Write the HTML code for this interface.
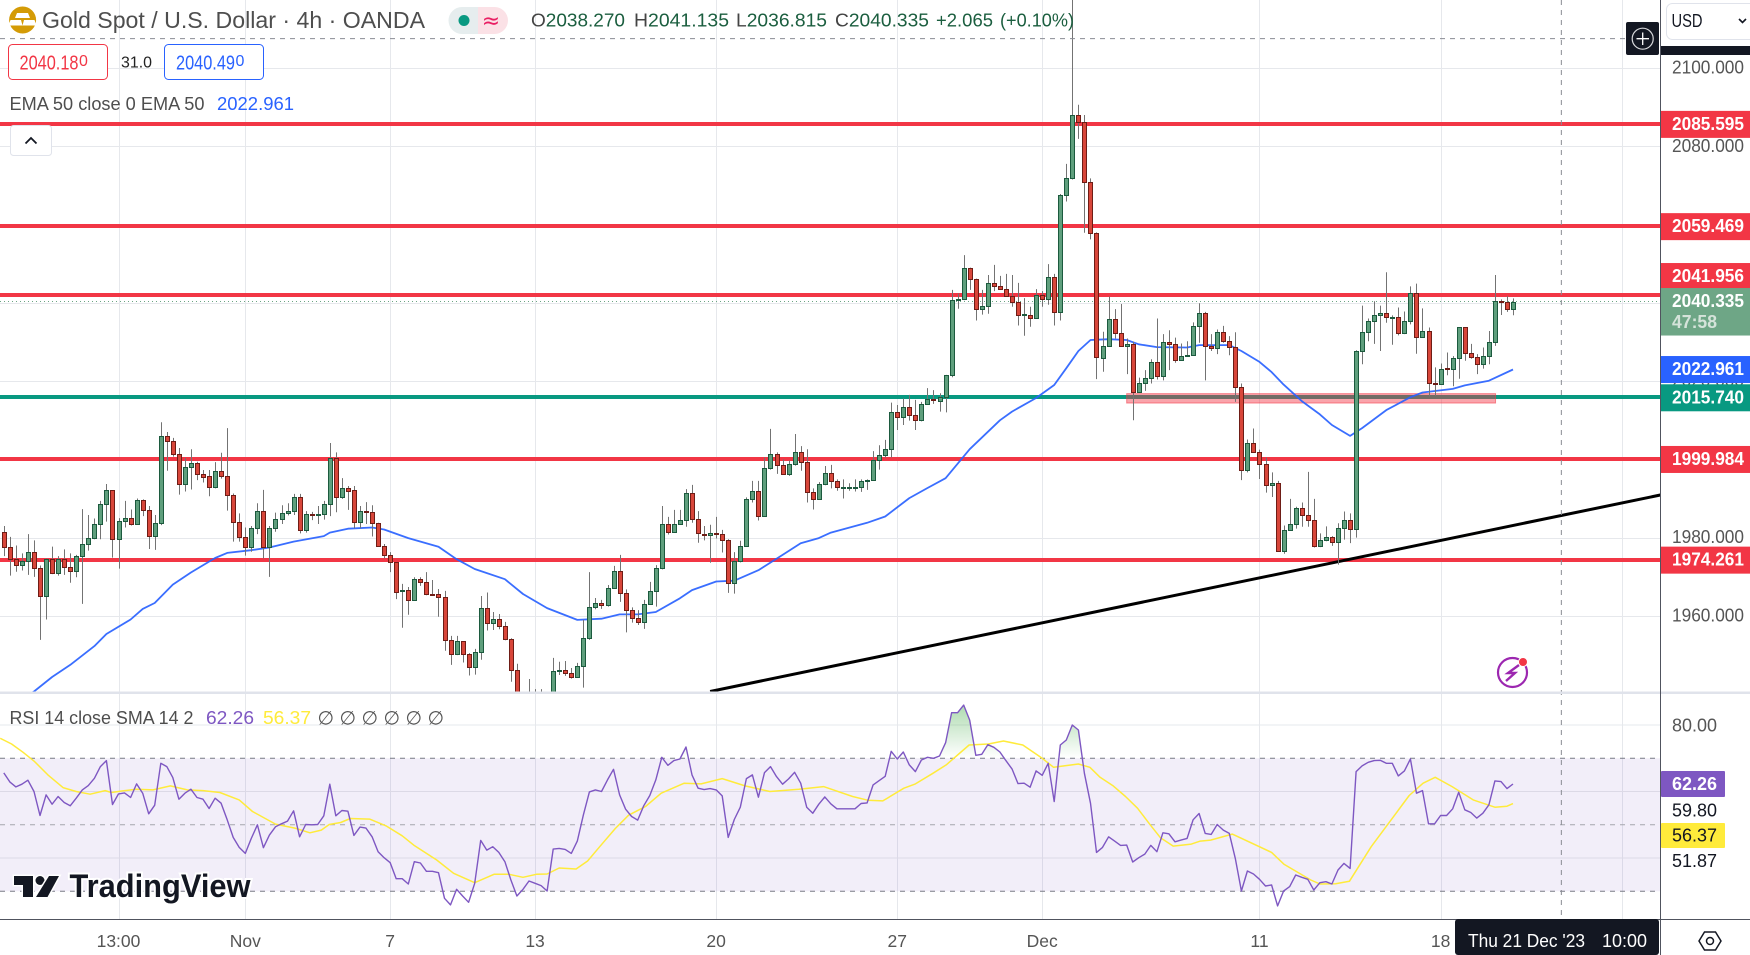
<!DOCTYPE html>
<html lang="en">
<head>
<meta charset="utf-8">
<title>Gold Spot / U.S. Dollar 4h chart</title>
<style>
html,body{margin:0;padding:0;background:#fff;width:1750px;height:955px;overflow:hidden}
svg{display:block;font-family:"Liberation Sans",Arial,sans-serif}
text{white-space:pre}
</style>
</head>
<body>
<svg id="chart" xmlns="http://www.w3.org/2000/svg" width="1750" height="955" viewBox="0 0 1750 955">
  <defs>
    <clipPath id="main-clip"><rect x="0" y="0" width="1660" height="692"/></clipPath>
    <clipPath id="rsi-clip"><rect x="0" y="694" width="1660" height="225"/></clipPath>
    <clipPath id="ob-clip"><rect x="0" y="694" width="1660" height="64.3"/></clipPath>
    <clipPath id="os-clip"><rect x="0" y="891.3" width="1660" height="28"/></clipPath>
    <linearGradient id="ob-grad" gradientUnits="userSpaceOnUse" x1="0" y1="705" x2="0" y2="758">
      <stop offset="0" stop-color="#4caf50" stop-opacity="0.45"/>
      <stop offset="1" stop-color="#4caf50" stop-opacity="0"/>
    </linearGradient>
  </defs>
  <rect x="0" y="0" width="1750" height="955" fill="#ffffff"/>
  <g id="grid"></g>
  <g id="rsi-pane" clip-path="url(#rsi-clip)"></g>
  <g id="main-pane" clip-path="url(#main-clip)"></g>
  <g id="crosshair"></g>
  <rect x="0" y="691.5" width="1750" height="2.5" fill="#e0e3eb"/>
  <rect x="0" y="919.5" width="1750" height="36" fill="#ffffff"/>
  <rect x="1661" y="0" width="89" height="919" fill="#ffffff"/>
  <rect x="1661" y="691.5" width="89" height="2.5" fill="#e0e3eb"/>
  <line x1="0" y1="919.5" x2="1750" y2="919.5" stroke="#50535e" stroke-width="1"/>
  <line x1="1660.5" y1="0" x2="1660.5" y2="955" stroke="#50535e" stroke-width="1"/>
  <rect x="1661" y="46" width="89" height="9" fill="#131722"/>
  <g id="axis-labels"></g>
  <g id="tags"></g>

  <!-- Header -->
  <g>
    <circle cx="22.6" cy="20" r="13.5" fill="#d49b06"/>
    <polygon points="17,13 28,13 30,18 15,18" fill="#fff"/>
    <polygon points="10.5,20 21,20 22.5,25.5 8.5,25.5" fill="#fff"/>
    <polygon points="24,20 34.5,20 36.5,25.5 22.5,25.5" fill="#fff"/>
  </g>
  <text x="42" y="28" font-size="23" fill="#4e4e4e" textLength="383" lengthAdjust="spacingAndGlyphs">Gold Spot / U.S. Dollar · 4h · OANDA</text>
  <g>
    <path d="M478 7 H462 a13.500 13.500 0 0 0 0 27 H478 Z" fill="#e6edee"/>
    <path d="M478 7 H494.500 a13.500 13.500 0 0 1 0 27 H478 Z" fill="#fbe1e6"/>
    <circle cx="464" cy="20.500" r="5.500" fill="#089981"/>
    <text x="491" y="28" font-size="22" text-anchor="middle" fill="#e91e63" font-family="'DejaVu Sans',sans-serif">≈</text>
  </g>
  <g font-size="18.500" fill="#1b5e3f">
    <text x="531" y="26.500" textLength="94" lengthAdjust="spacingAndGlyphs"><tspan fill="#444">O</tspan>2038.270</text>
    <text x="634" y="26.500" textLength="95" lengthAdjust="spacingAndGlyphs"><tspan fill="#444">H</tspan>2041.135</text>
    <text x="736" y="26.500" textLength="91" lengthAdjust="spacingAndGlyphs"><tspan fill="#444">L</tspan>2036.815</text>
    <text x="835" y="26.500" textLength="94" lengthAdjust="spacingAndGlyphs"><tspan fill="#444">C</tspan>2040.335</text>
    <text x="936" y="26.500" textLength="57" lengthAdjust="spacingAndGlyphs">+2.065</text>
    <text x="1000" y="26.500" textLength="74" lengthAdjust="spacingAndGlyphs">(+0.10%)</text>
  </g>
  <g>
    <rect x="8.500" y="44.500" width="99" height="35" rx="4" fill="#fff" stroke="#f23645"/>
    <text x="19.500" y="69.500" font-size="20.500" fill="#f23645" textLength="59" lengthAdjust="spacingAndGlyphs">2040.18</text>
    <text x="79" y="66" font-size="16" fill="#f23645">0</text>
  </g>
  <text x="121" y="67.500" font-size="16" fill="#222" textLength="31" lengthAdjust="spacingAndGlyphs">31.0</text>
  <g>
    <rect x="164.500" y="44.500" width="99" height="35" rx="4" fill="#fff" stroke="#2962ff"/>
    <text x="176" y="69.500" font-size="20.500" fill="#2962ff" textLength="59" lengthAdjust="spacingAndGlyphs">2040.49</text>
    <text x="235.500" y="66" font-size="16" fill="#2962ff">0</text>
  </g>
  <text x="9.500" y="110" font-size="18" fill="#4e4e4e" textLength="195" lengthAdjust="spacingAndGlyphs">EMA 50 close 0 EMA 50</text>
  <text x="217" y="110" font-size="18.500" fill="#2962ff" textLength="77" lengthAdjust="spacingAndGlyphs">2022.961</text>
  <g>
    <rect x="10.500" y="125.500" width="41" height="30" rx="3" fill="#fff" stroke="#e0e3eb"/>
    <polyline points="25.500,143.500 31,138 36.500,143.500" fill="none" stroke="#131722" stroke-width="1.800"/>
  </g>
  <text x="9.500" y="724" font-size="18" fill="#4e4e4e" textLength="184" lengthAdjust="spacingAndGlyphs">RSI 14 close SMA 14 2</text>
  <text x="206" y="724" font-size="18.500" fill="#7e57c2" textLength="48" lengthAdjust="spacingAndGlyphs">62.26</text>
  <text x="263" y="724" font-size="18.500" fill="#ffeb3b" textLength="48" lengthAdjust="spacingAndGlyphs">56.37</text>
  <text font-size="19" fill="#555" font-family="'DejaVu Sans',sans-serif" y="724.500"><tspan x="317.500">∅</tspan><tspan x="339.500">∅</tspan><tspan x="361.500">∅</tspan><tspan x="383.500">∅</tspan><tspan x="405.500">∅</tspan><tspan x="427.500">∅</tspan></text>

  <!-- TradingView logo -->
  <g>
    <path d="M14 876 H33 V897 H23 V885 H14 Z" fill="#131722" stroke="#fff" stroke-width="3" paint-order="stroke"/>
    <circle cx="40" cy="880.500" r="4.500" fill="#131722" stroke="#fff" stroke-width="3" paint-order="stroke"/>
    <path d="M49 876 H59 L47.500 897 H36 Z" fill="#131722" stroke="#fff" stroke-width="3" paint-order="stroke"/>
    <text x="69.500" y="897" font-size="32" font-weight="700" fill="#131722" stroke="#fff" stroke-width="4" paint-order="stroke" textLength="181" lengthAdjust="spacingAndGlyphs">TradingView</text>
  </g>

  <!-- Lightning alert -->
  <g>
    <circle cx="1512.500" cy="672.500" r="14.500" fill="none" stroke="#9c27b0" stroke-width="2.200"/>
    <path d="M1519 665 L1508 673 H1515 L1506 681" fill="none" stroke="#9c27b0" stroke-width="2.400"/>
    <circle cx="1523" cy="662" r="4.500" fill="#f23645" stroke="#fff" stroke-width="1"/>
  </g>

  <!-- Crosshair add button -->
  <g>
    <rect x="1626" y="22" width="33" height="33" rx="2" fill="#131722"/>
    <circle cx="1642.700" cy="38.700" r="10.500" fill="none" stroke="#d8d9dc" stroke-width="1.200"/>
    <path d="M1642.700 32.500 V45 M1636.500 38.700 H1649" stroke="#fff" stroke-width="1.300"/>
  </g>

  <!-- Currency -->
  <g>
    <rect x="1666.500" y="3.500" width="95" height="36" rx="6" fill="#fff" stroke="#e0e3eb"/>
    <text x="1671.500" y="27" font-size="18.500" fill="#131722" textLength="31" lengthAdjust="spacingAndGlyphs">USD</text>
    <polyline points="1739,19 1742.500,22.500 1746,19" fill="none" stroke="#131722" stroke-width="1.600"/>
  </g>

  <!-- Date tag -->
  <g>
    <rect x="1455" y="919" width="204" height="36" rx="3" fill="#131722"/>
    <text x="1468" y="947" font-size="18" fill="#fff" textLength="117" lengthAdjust="spacingAndGlyphs">Thu 21 Dec '23</text>
    <text x="1602" y="947" font-size="18" fill="#fff" textLength="45" lengthAdjust="spacingAndGlyphs">10:00</text>
  </g>
  <g>
    <polygon points="1699,941 1704.500,932 1715.500,932 1721,941 1715.500,950 1704.500,950" fill="none" stroke="#131722" stroke-width="1.500"/>
    <circle cx="1710" cy="941" r="3.500" fill="none" stroke="#131722" stroke-width="1.500"/>
  </g>
</svg>

<script>
// ---------- Candles (OHLC, price units) ----------
const opens = [
1981.4,1977.5,1974.5,1972.9,1974.0,1976.3,1972.2,1965.0,1974.5,1970.9,
1974.5,1972.4,1971.4,1975.2,1978.3,1979.8,1983.4,1988.5,1992.1,1979.6,
1984.2,1985.0,1983.4,1989.5,1987.0,1980.5,1983.7,2005.9,2004.6,2001.5,
1993.6,1998.0,1999.0,1996.2,1995.7,1992.9,1997.0,1995.7,1990.8,1983.9,
1980.1,1977.5,1982.4,1986.7,1977.7,1982.4,1984.7,1986.2,1986.7,1990.3,
1981.9,1986.1,1985.9,1986.1,1988.5,2000.3,1990.3,1992.6,1992.1,1983.9,
1986.7,1986.5,1983.7,1978.0,1975.7,1973.7,1966.4,1966.6,1964.0,1969.4,
1968.6,1965.6,1965.5,1964.8,1953.8,1950.2,1953.5,1950.2,1946.9,1950.7,
1962.0,1958.1,1959.1,1957.4,1954.0,1946.1,1938.0,1936.0,1934.0,1935.0,
1934.0,1936.0,1945.9,1946.1,1945.5,1944.5,1947.1,1954.3,1962.2,1963.2,
1962.7,1967.1,1971.4,1965.8,1961.4,1959.4,1958.4,1963.0,1966.3,1972.2,
1983.4,1981.4,1983.4,1984.4,1991.3,1984.7,1981.0,1980.6,1981.1,1980.9,
1979.3,1968.3,1974.0,1977.8,1990.0,1991.8,1985.5,1997.7,2001.5,1998.5,
1996.2,1998.7,2002.0,1999.3,1991.6,1989.8,1993.6,1996.4,1994.4,1992.8,
1992.8,1992.8,1992.9,1994.4,1994.7,1999.8,2001.0,2002.6,2012.0,2010.8,
2013.3,2011.3,2010.0,2014.1,2015.5,2015.0,2015.9,2021.5,2040.8,2041.0,
2048.8,2046.0,2038.4,2039.1,2045.0,2044.2,2043.5,2041.7,2040.1,2036.9,
2037.0,2036.0,2041.9,2040.9,2046.5,2037.6,2067.5,2071.8,2087.9,2086.1,
2071.0,2057.8,2026.0,2028.9,2035.8,2032.2,2028.9,2029.6,2017.3,2019.4,
2020.9,2024.8,2021.2,2030.1,2029.6,2025.5,2026.3,2026.8,2034.2,2037.3,
2028.9,2028.4,2032.5,2030.2,2028.6,2018.6,1997.2,2004.3,2002.0,1998.7,
1993.4,1993.9,1976.7,1981.9,1983.4,1987.5,1985.9,1984.4,1977.8,1979.3,
1980.1,1978.8,1982.6,1984.4,1982.1,2027.6,2032.5,2035.3,2036.8,2037.3,
2036.2,2036.3,2032.2,2035.3,2042.6,2031.4,2032.7,2019.5,2019.3,2023.3,
2023.0,2025.8,2033.7,2027.1,2026.1,2024.3,2026.3,2029.9,2040.5,2040.1,
2038.3];
const highs = [
1983.0,1980.2,1978.0,1976.0,1980.9,1979.3,1972.9,1974.7,1977.7,1975.3,
1977.0,1976.0,1975.6,1987.3,1985.8,1984.9,1989.4,1993.7,1992.1,1985.0,
1989.4,1987.2,1990.0,1989.8,1988.1,1985.8,2009.5,2007.0,2005.5,2002.9,
2000.4,2002.6,1999.4,1997.3,1997.3,1999.3,2001.7,2008.0,1991.3,1986.2,
1982.6,1983.0,1988.8,1992.2,1983.0,1986.4,1988.3,1988.8,1991.2,1991.2,
1986.8,1986.6,1988.1,1989.4,2004.2,2001.8,1995.2,1993.2,1993.2,1988.1,
1989.1,1988.3,1983.8,1978.4,1976.3,1973.8,1968.2,1967.4,1969.9,1969.9,
1971.2,1969.2,1966.9,1966.4,1954.9,1954.9,1953.6,1950.5,1951.6,1965.1,
1966.0,1961.0,1960.5,1958.5,1954.3,1947.8,1939.0,1943.9,1941.3,1941.3,
1939.0,1949.3,1948.3,1948.5,1946.7,1948.0,1959.0,1971.2,1964.6,1964.1,
1967.9,1972.8,1975.6,1966.8,1962.2,1961.5,1964.1,1968.7,1973.0,1988.1,
1985.3,1987.1,1987.1,1992.4,1993.5,1986.8,1983.0,1983.3,1985.3,1982.0,
1979.6,1976.3,1979.2,1990.3,1994.5,1994.5,2000.5,2007.8,2001.8,2000.0,
1999.7,2006.5,2003.4,2002.6,1992.6,1994.2,1998.3,1998.6,1994.9,1994.9,
1993.9,1994.9,1994.9,1994.9,2002.1,2003.6,2005.0,2014.5,2013.9,2015.6,
2016.5,2015.2,2014.7,2018.2,2017.7,2016.9,2021.6,2043.3,2042.4,2052.2,
2049.0,2046.2,2043.3,2047.1,2049.7,2046.9,2047.4,2047.1,2045.1,2041.2,
2039.0,2043.5,2043.0,2049.9,2047.4,2067.8,2075.5,2117.4,2090.6,2088.0,
2071.8,2058.0,2032.6,2041.6,2038.4,2039.7,2030.9,2030.1,2020.9,2022.8,
2025.6,2036.0,2032.0,2033.0,2031.1,2029.6,2030.2,2035.0,2039.9,2037.7,
2032.0,2033.2,2034.1,2031.5,2032.5,2019.4,2005.1,2007.9,2002.5,2000.5,
1996.7,1994.5,1983.1,1989.9,1987.9,1989.0,1996.8,1989.9,1981.1,1982.9,
1980.4,1983.7,1986.7,1986.2,2027.9,2039.3,2036.0,2040.4,2039.3,2047.8,
2036.8,2038.8,2037.8,2044.2,2044.9,2038.6,2033.7,2023.5,2024.5,2027.3,
2026.4,2033.8,2033.8,2029.5,2026.9,2028.6,2032.8,2047.1,2040.9,2041.7,
2041.135];
const lows = [
1975.3,1970.3,1971.3,1971.6,1970.5,1970.0,1953.9,1959.1,1970.7,1970.3,
1970.5,1968.5,1969.9,1963.1,1976.7,1979.6,1979.6,1984.1,1974.9,1972.1,
1982.6,1983.1,1983.3,1985.5,1977.1,1976.9,1983.2,1997.1,2000.7,1991.0,
1991.8,1992.3,1994.7,1994.1,1990.6,1992.6,1995.1,1986.9,1979.0,1979.0,
1975.4,1976.4,1980.9,1974.7,1970.0,1981.5,1983.5,1985.7,1985.8,1981.1,
1981.3,1984.5,1983.5,1984.6,1985.5,1986.5,1989.9,1987.1,1982.4,1982.4,
1983.5,1980.3,1977.7,1974.7,1971.2,1964.3,1957.0,1960.3,1963.9,1967.7,
1965.3,1965.1,1959.8,1951.1,1947.5,1950.0,1948.1,1944.8,1945.0,1948.8,
1956.3,1956.4,1956.6,1953.8,1943.2,1936.0,1934.0,1932.0,1932.0,1931.0,
1931.0,1934.0,1944.9,1944.7,1944.0,1944.3,1941.7,1953.9,1961.7,1961.8,
1962.4,1966.9,1963.6,1955.8,1958.3,1957.7,1956.7,1962.9,1962.4,1971.9,
1980.8,1981.3,1983.3,1982.8,1983.8,1978.7,1979.3,1973.6,1979.8,1976.2,
1965.9,1965.7,1973.7,1977.7,1989.0,1984.4,1985.4,1997.4,1996.3,1996.1,
1995.8,1998.4,1997.1,1989.0,1987.2,1989.7,1993.4,1992.6,1992.0,1990.0,
1992.0,1991.8,1991.7,1992.2,1994.6,1997.4,2000.5,2000.5,2007.5,2008.8,
2009.9,2007.5,2009.7,2013.9,2014.2,2012.2,2012.0,2021.0,2038.5,2040.7,
2043.3,2035.5,2037.0,2037.2,2043.0,2043.4,2041.6,2039.0,2034.2,2031.6,
2033.9,2035.9,2039.0,2039.5,2034.2,2035.5,2065.9,2071.5,2081.9,2057.9,
2056.2,2020.5,2022.4,2028.8,2030.9,2028.8,2021.8,2010.0,2017.1,2017.5,
2019.4,2020.4,2020.2,2022.8,2024.7,2025.4,2026.2,2026.6,2029.8,2020.2,
2027.7,2026.9,2029.8,2026.6,2014.7,1994.7,1996.7,2001.8,1995.0,1991.5,
1990.4,1976.4,1975.9,1981.8,1982.3,1982.8,1982.8,1977.5,1977.6,1979.1,
1977.9,1973.1,1979.5,1978.6,1980.0,2024.3,2030.2,2029.5,2027.7,2034.9,
2029.3,2031.7,2032.0,2034.5,2027.0,2031.2,2016.0,2016.2,2019.2,2021.5,
2018.7,2020.6,2025.2,2025.7,2021.8,2023.2,2024.3,2029.0,2036.9,2037.7,
2036.815];
const closes = [
1977.5,1974.5,1972.9,1974.0,1976.3,1972.2,1965.0,1974.5,1970.9,1974.5,
1972.4,1971.4,1975.2,1978.3,1979.8,1983.4,1988.5,1992.1,1979.6,1984.2,
1985.0,1983.4,1989.5,1987.0,1980.5,1983.7,2005.9,2004.6,2001.5,1993.6,
1998.0,1999.0,1996.2,1995.6,1992.9,1997.0,1995.7,1990.8,1983.9,1980.1,
1977.5,1982.4,1986.7,1977.7,1982.4,1984.7,1986.2,1986.7,1990.3,1981.9,
1986.0,1985.9,1986.1,1988.5,2000.3,1990.3,1992.6,1992.0,1983.9,1986.7,
1986.5,1983.7,1978.0,1975.7,1973.7,1966.2,1966.6,1964.0,1969.4,1968.6,
1965.5,1965.4,1964.8,1953.8,1950.2,1953.5,1950.2,1946.9,1950.7,1962.0,
1958.1,1959.1,1957.4,1954.0,1946.1,1938.0,1936.0,1934.0,1935.0,1934.0,
1936.0,1945.9,1946.1,1945.5,1944.5,1947.1,1954.3,1962.2,1963.2,1962.7,
1967.1,1971.4,1965.8,1961.4,1959.4,1958.4,1963.0,1966.3,1972.2,1983.4,
1981.4,1983.4,1984.4,1991.3,1984.7,1981.1,1980.6,1981.1,1980.9,1979.3,
1968.3,1974.0,1977.8,1990.0,1991.8,1985.5,1997.7,2001.5,1998.5,1996.2,
1998.7,2002.0,1999.3,1991.6,1989.8,1993.6,1996.4,1994.4,1992.9,1993.0,
1993.0,1993.0,1994.4,1994.7,1999.8,2001.0,2002.6,2012.0,2010.8,2013.3,
2011.3,2010.0,2014.1,2015.4,2015.3,2015.9,2021.5,2040.7,2041.0,2048.8,
2046.0,2038.4,2039.1,2045.0,2044.2,2043.5,2041.7,2040.1,2036.8,2037.1,
2036.0,2041.9,2040.9,2046.5,2037.6,2067.5,2071.8,2087.9,2086.1,2071.0,
2057.8,2026.1,2028.9,2035.8,2032.2,2028.9,2029.6,2017.3,2019.4,2020.9,
2024.8,2021.2,2030.1,2029.6,2025.5,2026.3,2026.8,2034.2,2037.3,2028.9,
2028.4,2032.5,2030.2,2028.6,2018.6,1997.2,2004.3,2002.0,1998.7,1993.4,
1993.9,1976.7,1981.9,1983.4,1987.5,1985.9,1984.4,1977.8,1979.3,1980.1,
1978.8,1982.6,1984.4,1982.1,2027.6,2032.5,2035.3,2036.8,2037.3,2036.3,
2036.4,2032.2,2035.3,2042.6,2031.4,2032.7,2019.4,2019.3,2023.2,2023.1,
2025.8,2033.7,2027.1,2026.1,2024.3,2026.3,2029.9,2040.4,2040.3,2038.3,
2040.335];

// ---------- EMA 50 (bar number, price) ----------
const emaBars = [3,5,8,11,15,17,21,23,25,28,31,35,37,41,44,48,53,54,57,61,63,67,72,75,78,83,86,90,95,99,102,105,108,112,114,118,121,125,129,132,135,137,143,146,150,153,156,160,165,167,171,174,176,178,180,183,186,188,191,196,198,203,205,208,210,212,215,218,220,223,225,229,233,235,240,242,246,250];
const emaValues = [1939.0,1940.7,1944.4,1947.5,1952.3,1955.4,1959.1,1961.8,1963.3,1968.0,1971.1,1974.8,1976.1,1976.8,1977.5,1979.0,1980.4,1981.3,1982.3,1982.6,1982.1,1979.9,1977.7,1974.5,1972.0,1969.4,1965.6,1962.0,1959.0,1959.3,1960.4,1960.4,1961.0,1964.5,1966.6,1968.8,1969.0,1971.7,1975.6,1978.6,1979.9,1981.3,1983.8,1985.4,1990.1,1992.7,1995.2,2002.6,2010.0,2012.2,2015.7,2019.0,2023.3,2027.7,2030.5,2030.7,2030.5,2029.4,2028.7,2028.6,2029.2,2029.2,2027.7,2024.9,2022.3,2019.1,2014.9,2011.5,2008.8,2006.0,2008.0,2012.6,2015.9,2017.1,2018.0,2018.9,2020.1,2022.961];

// ---------- RSI 14 per bar ----------
const rsiValues = [
65.6,62.9,61.4,62.2,63.4,60.0,52.8,59.0,56.2,58.5,
56.7,55.7,58.0,60.5,61.8,64.0,67.5,69.3,56.1,59.3,
59.6,58.2,62.3,59.5,53.3,55.9,68.5,67.5,64.2,57.7,
59.5,60.7,58.2,57.7,54.9,58.0,56.5,51.5,46.2,43.2,
41.4,45.9,50.0,43.1,46.9,49.4,50.3,51.1,54.2,46.4,
50.1,50.0,50.1,52.7,62.2,52.7,54.3,54.1,46.8,49.3,
49.0,46.4,41.9,40.1,38.6,33.8,33.8,32.2,38.9,38.5,
36.0,36.0,35.6,27.9,25.9,30.6,28.6,26.7,32.4,45.3,
42.4,43.4,41.7,38.9,33.4,28.6,30.6,33.1,32.4,31.7,
30.1,42.7,42.9,42.6,41.4,45.1,53.0,59.9,60.5,60.0,
63.5,66.7,59.0,54.7,52.5,51.4,55.7,58.8,63.5,70.3,
67.9,69.3,69.8,73.4,65.0,61.0,60.6,60.9,60.5,58.7,
46.2,51.6,55.3,63.9,65.0,58.3,65.7,67.5,64.5,62.2,
63.8,65.8,62.5,55.3,53.5,56.2,58.4,56.3,54.8,54.8,
54.8,54.8,56.4,56.6,62.0,63.3,64.6,72.1,69.8,71.9,
68.0,66.0,69.5,70.3,70.0,70.7,74.7,83.7,83.7,86.0,
81.5,70.9,71.2,74.1,73.3,71.9,69.3,66.8,62.4,62.5,
61.3,66.2,64.9,68.5,57.0,74.0,75.5,80.0,78.5,65.5,
56.5,41.7,43.2,46.4,45.1,43.8,43.9,38.8,40.1,41.2,
43.8,41.9,47.6,47.3,44.9,45.4,45.9,51.5,53.4,47.4,
47.1,50.1,48.4,47.4,39.9,30.1,36.1,35.2,33.6,31.6,
31.9,25.6,30.1,31.4,34.9,34.2,33.6,30.4,32.6,32.9,
32.2,36.4,38.4,36.9,66.0,67.7,68.8,69.3,69.4,68.5,
68.5,64.7,66.2,69.8,59.5,60.3,50.3,50.3,52.8,52.8,
54.8,59.8,54.5,53.7,52.0,53.5,56.0,63.2,63.0,60.9,
62.26];

// ---------- RSI SMA 14 (bar number, value) ----------
const smaBars = [-0.6,1.3,3.2,5.1,7.3,9.8,12,14.3,16.8,17.8,19.7,21.9,24.7,27.6,30.4,33,35.8,39,41.2,45,48.2,50.7,52.6,53.9,55.8,57.4,60.6,63.4,66,67.9,71.7,74.5,78,81.2,83.7,86,88.2,90,92,94.8,96.7,98.7,101.3,103.5,106.3,108.9,112.7,115.5,119,122.8,126.9,131.7,135.8,140.6,143.1,145.6,149.1,151,153.9,156.1,159.9,163.1,165.6,168.8,172,173.9,178,179.9,181.6,183.7,185.8,187.8,189.9,191.6,193.7,196.7,198.2,199.9,203.5,210,212.1,216.5,218,220.6,222.9,226.5,232.8,235.1,237.1,239.9,243.4,247,249,250];
const smaValues = [76.0,74.3,71.8,69.0,65.0,61.2,60.0,59.2,60.3,59.7,60.2,60.7,60.5,61.7,60.5,60.3,59.7,57.5,54.0,50.2,49.0,47.6,48.4,50.1,50.7,51.9,51.7,49.6,46.7,43.9,39.4,35.4,32.6,35.1,35.1,34.2,35.1,35.2,37.0,36.7,39.1,43.4,48.9,52.9,55.5,59.5,62.5,62.3,63.9,61.7,60.0,60.7,61.5,58.5,57.4,57.2,61.0,62.3,65.5,68.0,74.0,74.3,75.2,74.0,70.0,67.3,68.3,67.3,64.3,61.8,58.5,55.0,50.0,46.1,43.6,44.2,45.1,45.4,47.2,41.7,38.1,33.4,32.2,32.3,33.0,43.4,58.8,62.5,64.3,61.5,57.5,55.3,55.6,56.37];

// ---------- Drawings ----------
const resistanceLevels = [2085.595,2059.469,2041.956,1999.984,1974.261];
const supportLevels = [2015.74];
const trendBars = [117,274.4];
const trendPrices = [1940.7,1990.9];
const zoneBars = [186,247.1];
const zonePrices = [2016.8,2014.4];
const lastPrice = 2040.335;
const countdownLabel = "47:58";

// ---------- Axes ----------
const priceTicks = [2100,2080,2060,2040,2020,2000,1980,1960];
const rsiGridLevels = [80,60,40];
const rsiBandLevels = [70,50,30];
const rsiAxisLabels = ["80.00"];
const rsiAxisLabelValues = [80];
const timeBars = [19,40,64,88,118,148,172,208,238,268];
const timeLabels = ["13:00","Nov","7","13","20","27","Dec","11","18",""];
const crosshairBar = 258;
const crosshairPrice = 2107.5;

// axis functions
function xOf(i){ return 3.8 + 6.037 * i; }
function yOf(p){ return 68 + (2100 - p) * 3.914; }
function yRsi(r){ return 758.3 + (70 - r) * 3.325; }

const NS = "http://www.w3.org/2000/svg";
function make(tag, attrs, parent){
  const el = document.createElementNS(NS, tag);
  for (const k in attrs) el.setAttribute(k, attrs[k]);
  parent.appendChild(el);
  return el;
}
const grid = document.getElementById("grid");
const mainPane = document.getElementById("main-pane");
const rsiPane = document.getElementById("rsi-pane");
const cross = document.getElementById("crosshair");
const axisLabels = document.getElementById("axis-labels");
const tags = document.getElementById("tags");

// grid
timeBars.forEach(function(b){
  const x = Math.round(xOf(b)) + 0.5;
  const l = make("line", {x1:x, y1:0, x2:x, y2:919, stroke:"#e6e8ec", "stroke-width":1}, grid);
  
  
});
priceTicks.forEach(function(p){
  const y = Math.round(yOf(p)) + 0.5;
  const l = make("line", {x1:0, y1:y, x2:1660, y2:y, stroke:"#e6e8ec", "stroke-width":1}, grid);
  
  
  const t = make("text", {x:1672, y:yOf(p)+5.5, "font-size":18, fill:"#555", textLength:72, lengthAdjust:"spacingAndGlyphs"}, axisLabels);
  
  
  t.textContent = p.toFixed(3);
});
timeBars.forEach(function(b, k){
  if (!timeLabels[k]) return;
  const t = make("text", {x:xOf(b), y:947, "font-size":17.5, fill:"#555", "text-anchor":"middle"}, axisLabels);
  
  
  t.textContent = timeLabels[k];
});

// main pane: levels
resistanceLevels.forEach(function(p){
  const y = Math.round(yOf(p) - 0.5);
  const l = make("line", {x1:0, y1:y, x2:1660, y2:y, stroke:"#f23645", "stroke-width":4}, mainPane);
  
  
});
supportLevels.forEach(function(p){
  const y = Math.round(yOf(p) - 0.5);
  const l = make("line", {x1:0, y1:y, x2:1660, y2:y, stroke:"#089981", "stroke-width":4}, mainPane);
  
  
});
const lastLine = make("line", {x1:0, y1:yOf(lastPrice), x2:1660, y2:yOf(lastPrice), stroke:"#6ba583", "stroke-width":1, "stroke-dasharray":"1 3"}, mainPane);



const zone = make("rect", {x:xOf(zoneBars[0]), y:yOf(zonePrices[0]), width:xOf(zoneBars[1])-xOf(zoneBars[0]), height:yOf(zonePrices[1])-yOf(zonePrices[0]), fill:"rgba(242,54,69,0.45)", stroke:"rgba(242,54,69,0.55)", "stroke-width":1}, mainPane);



const trend = make("line", {x1:xOf(trendBars[0]), y1:yOf(trendPrices[0]), x2:xOf(trendBars[1]), y2:yOf(trendPrices[1]), stroke:"#000", "stroke-width":3}, mainPane);



const emaLine = make("polyline", {points:emaBars.map(function(b,k){return xOf(b).toFixed(1)+","+yOf(emaValues[k]).toFixed(1);}).join(" "), fill:"none", stroke:"#2962ff", "stroke-width":1.8, "stroke-opacity":0.92, "stroke-linejoin":"round"}, mainPane);



// candles
closes.forEach(function(c, i){
  const o = opens[i], h = highs[i], l = lows[i];
  const up = c >= o;
  const cx = Math.round(xOf(i)) + 0.5;
  const g = make("g", {}, mainPane);
  
  
  make("line", {x1:cx, y1:yOf(h), x2:cx, y2:yOf(l), stroke:"#737373", "stroke-width":1}, g);
  const top = Math.round(yOf(Math.max(o,c))) + 0.5;
  const bot = Math.round(yOf(Math.min(o,c))) + 0.5;
  make("rect", {x:cx-2, y:top, width:4, height:Math.max(bot-top,1), fill:up?"#5f9f7d":"#d8463a", stroke:up?"#1c5a3e":"#6e1d16", "stroke-width":1}, g);
});

// RSI pane
const band = make("rect", {x:0, y:yRsi(70), width:1660, height:yRsi(30)-yRsi(70), fill:"rgba(126,87,194,0.1)"}, rsiPane);


rsiGridLevels.forEach(function(r){
  const l = make("line", {x1:0, y1:yRsi(r), x2:1660, y2:yRsi(r), stroke:r===80?"#e6e8ec":"#dcd9e6", "stroke-width":1}, rsiPane);
  
  
});
rsiBandLevels.forEach(function(r){
  const l = make("line", {x1:0, y1:yRsi(r), x2:1660, y2:yRsi(r), stroke:r===50?"#a5a6ad":"#787b86", "stroke-width":1, "stroke-dasharray":"5 5"}, rsiPane);
  
  
});
const rsiPts = rsiValues.map(function(r,i){return xOf(i).toFixed(1)+","+yRsi(r).toFixed(1);});
const obFill = make("polygon", {points:rsiPts.join(" ")+" "+xOf(rsiValues.length-1).toFixed(1)+","+yRsi(70)+" "+xOf(0).toFixed(1)+","+yRsi(70), fill:"url(#ob-grad)", "clip-path":"url(#ob-clip)"}, rsiPane);


const smaLine = make("polyline", {points:smaBars.map(function(b,k){return xOf(b).toFixed(1)+","+yRsi(smaValues[k]).toFixed(1);}).join(" "), fill:"none", stroke:"#ffeb3b", "stroke-width":1.5, "stroke-linejoin":"round"}, rsiPane);


const rsiLine = make("polyline", {points:rsiPts.join(" "), fill:"none", stroke:"#7e57c2", "stroke-width":1.4, "stroke-linejoin":"round"}, rsiPane);



// crosshair
const cx1 = xOf(crosshairBar);
const vLine = make("line", {x1:cx1, y1:0, x2:cx1, y2:919, stroke:"#8a8c94", "stroke-width":1, "stroke-dasharray":"5 5"}, cross);


const hLine = make("line", {x1:0, y1:yOf(crosshairPrice), x2:1626, y2:yOf(crosshairPrice), stroke:"#8a8c94", "stroke-width":1, "stroke-dasharray":"5 5"}, cross);



// RSI axis labels
rsiAxisLabels.forEach(function(s,k){
  const t = make("text", {x:1672, y:yRsi(rsiAxisLabelValues[k])+6.5, "font-size":18, fill:"#555", textLength:45, lengthAdjust:"spacingAndGlyphs"}, axisLabels);
  
  
  t.textContent = s;
});

// price tags
function priceTag(cy, label, color){
  const g = make("g", {}, tags);
  make("rect", {x:1661, y:cy-13.5, width:89, height:27, fill:color}, g);
  const t = make("text", {x:1672, y:cy+5.5, "font-size":18, "font-weight":700, fill:"#fff", textLength:72, lengthAdjust:"spacingAndGlyphs"}, g);
  t.textContent = label;
  return g;
}
const lastY = yOf(lastPrice);
const boxTop = lastY - 13.5;
resistanceLevels.concat(supportLevels).forEach(function(p){
  let cy = yOf(p);
  if (cy + 13.5 > boxTop && cy < lastY) cy = boxTop - 11.5;
  const g = priceTag(cy, p.toFixed(3), supportLevels.indexOf(p) >= 0 ? "#089981" : "#f23645");
  
  
});
const emaTag = priceTag(yOf(emaValues[emaValues.length-1]), emaValues[emaValues.length-1].toFixed(3), "#2962ff");



const lastG = make("g", {}, tags);


make("rect", {x:1661, y:boxTop, width:89, height:47.5, fill:"#6ea686"}, lastG);
const lastTxt = make("text", {x:1672, y:lastY+5.5, "font-size":18, "font-weight":700, fill:"#fff", textLength:72, lengthAdjust:"spacingAndGlyphs"}, lastG);
lastTxt.textContent = lastPrice.toFixed(3);
const cdTxt = make("text", {x:1672, y:328, "font-size":18, "font-weight":700, fill:"#d5e3da", textLength:45, lengthAdjust:"spacingAndGlyphs"}, lastG);
cdTxt.textContent = countdownLabel;

// RSI tags
function rsiTag(top, h, label, bg, fg, name){
  const g = make("g", {}, tags);
  
  
  if (bg) make("rect", {x:1661, y:top, width:64, height:h, rx:1, fill:bg}, g);
  const t = make("text", {x:1672, y:top+h/2+6, "font-size":18, "font-weight":bg==="#7e57c2"?700:400, fill:fg, textLength:45, lengthAdjust:"spacingAndGlyphs"}, g);
  t.textContent = label;
}
rsiTag(771, 26, rsiValues[rsiValues.length-1].toFixed(2), "#7e57c2", "#fff", "rsi-value-tag");
rsiTag(798, 25, "59.80", null, "#131722", "rsi-upper-label");
rsiTag(823, 25, smaValues[smaValues.length-1].toFixed(2), "#ffeb3b", "#131722", "rsi-sma-value-tag");
rsiTag(848, 26, "51.87", null, "#131722", "rsi-lower-label");
</script>
</body>
</html>
